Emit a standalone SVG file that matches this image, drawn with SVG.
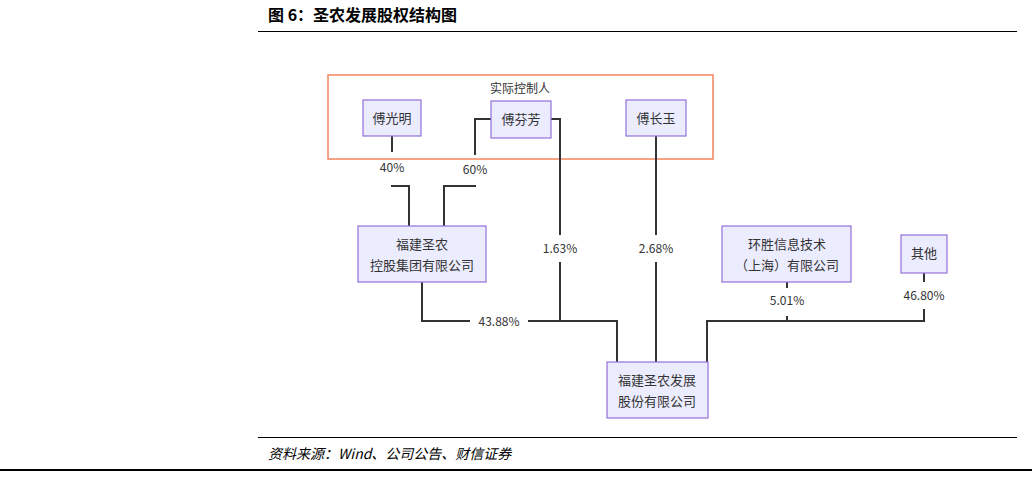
<svg xmlns="http://www.w3.org/2000/svg" width="1032" height="477" viewBox="0 0 1032 477">
<style>
text{font-family:"Noto Sans CJK SC","Liberation Sans",sans-serif;}
.n rect{fill:#ECECFF;stroke:#9370DB;stroke-width:1.2}
.n text{font-size:13px;fill:#333;text-anchor:middle}
.c path{fill:none;stroke:#333;stroke-width:2}
.lb{font-size:12px;fill:#333;text-anchor:middle}
</style>
<rect width="1032" height="477" fill="#fff"/>
<text x="268" y="21" font-size="16" font-weight="bold" font-family="'Noto Sans CJK SC',serif" fill="#000">图 6：圣农发展股权结构图</text>
<line x1="258" y1="31.5" x2="1017" y2="31.5" stroke="#000" stroke-width="1.2"/>
<g id="group-actual"><rect x="328" y="75" width="385" height="84" fill="none" stroke="#F4845F" stroke-width="1.5"/>
<text x="520" y="93" font-size="12" fill="#333" text-anchor="middle">实际控制人</text></g>
<g class="c" id="connectors">
<path d="M392 136V152M392 185V186H409V226"/>
<path d="M491 119H475V155M475 185V186H444V226"/>
<path d="M551 119H560V235M560 262V321H617V362"/>
<path d="M656 136V235M656 262V362"/>
<path d="M422 282V321H470M528 321H560"/>
<path d="M787 282V288M787 316V321H924V309M924 282V273M707 362V321H787"/>
<rect x="470" y="314" width="58" height="14" fill="#fff" stroke="none"/>
<text class="lb" x="392" y="172">40%</text>
<text class="lb" x="475" y="174">60%</text>
<text class="lb" x="560" y="253">1.63%</text>
<text class="lb" x="656" y="253">2.68%</text>
<text class="lb" x="499" y="326">43.88%</text>
<text class="lb" x="787" y="305">5.01%</text>
<text class="lb" x="924" y="300">46.80%</text>
</g>
<g class="n" id="n-fgm"><rect x="363" y="100" width="58" height="36"/><text x="392" y="123">傅光明</text></g>
<g class="n" id="n-fff"><rect x="491" y="101" width="60" height="37"/><text x="521" y="124">傅芬芳</text></g>
<g class="n" id="n-fcy"><rect x="626" y="100" width="60" height="36"/><text x="656" y="123">傅长玉</text></g>
<g class="n" id="n-hold"><rect x="358" y="226" width="128" height="56"/><text x="422" y="249">福建圣农</text><text x="422" y="270">控股集团有限公司</text></g>
<g class="n" id="n-hs"><rect x="722" y="226" width="129" height="56"/><text x="787" y="249">环胜信息技术</text><text x="787" y="270">（上海）有限公司</text></g>
<g class="n" id="n-other"><rect x="901" y="235" width="46" height="38"/><text x="924" y="258">其他</text></g>
<g class="n" id="n-sn"><rect x="607" y="362" width="101" height="56"/><text x="657" y="385">福建圣农发展</text><text x="657" y="406">股份有限公司</text></g>
<line x1="258" y1="437.5" x2="1017" y2="437.5" stroke="#000" stroke-width="1.2"/>
<text x="268" y="459" font-size="14" font-style="italic" font-family="'Noto Sans CJK SC',serif" fill="#000">资料来源：Wind、公司公告、财信证券</text>
<line x1="0" y1="470" x2="1032" y2="470" stroke="#000" stroke-width="2"/>
</svg>
